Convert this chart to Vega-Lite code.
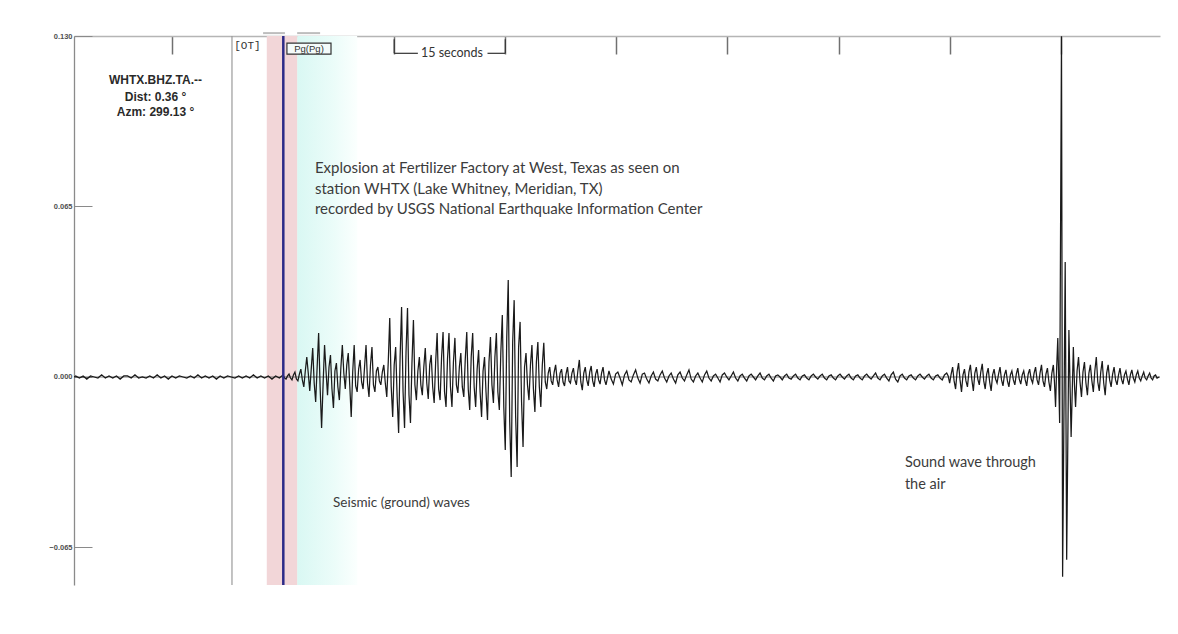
{
  "$schema": "https://vega.github.io/schema/vega-lite/v6.json",
  "width": 1086,
  "height": 549,
  "autosize": {"type": "none"},
  "padding": {"left": 74, "top": 36, "right": 18, "bottom": 49},
  "background": "white",
  "config": {"view": {"stroke": null}, "axis": {"grid": false}},
  "datasets": {
    "wave": [
      {"t":1.8,"a":0},{"t":2.0,"a":0.0004},{"t":2.5,"a":-0.0004},{"t":3.0,"a":0.0004},{"t":3.5,"a":-0.0008},{"t":4.0,"a":0.0004},{"t":4.5,"a":0},{"t":5.0,"a":-0.0004},{"t":5.5,"a":0.0008},{"t":6.0,"a":-0.0004},{"t":6.5,"a":0.0004},{"t":7.0,"a":-0.0004},{"t":7.5,"a":0.0004},{"t":8.0,"a":-0.0008},{"t":8.5,"a":0.0004},{"t":9.0,"a":0.0004},{"t":9.5,"a":-0.0004},{"t":10.0,"a":0.0008},{"t":10.5,"a":-0.0004},{"t":11.0,"a":0},{"t":11.5,"a":-0.0004},{"t":12.0,"a":0.0004},{"t":12.5,"a":-0.0004},{"t":13.0,"a":0.0008},{"t":13.5,"a":-0.0004},{"t":14.0,"a":0.0004},{"t":14.5,"a":-0.0008},{"t":15.0,"a":0.0004},{"t":15.5,"a":-0.0004},{"t":16.0,"a":0.0004},{"t":16.5,"a":0},{"t":17.0,"a":-0.0004},{"t":17.5,"a":0.0004},{"t":18.0,"a":-0.0004},{"t":18.5,"a":0.0008},{"t":19.0,"a":-0.0004},{"t":19.5,"a":0.0004},{"t":20.0,"a":-0.0004},{"t":20.5,"a":0.0004},{"t":21.0,"a":-0.0008},{"t":21.5,"a":0.0004},{"t":22.0,"a":-0.0004},{"t":22.5,"a":0.0004},{"t":23.0,"a":0},{"t":23.5,"a":-0.0004},{"t":24.0,"a":0.0004},{"t":24.5,"a":-0.0004},{"t":25.0,"a":0.0004},{"t":25.5,"a":-0.0004},{"t":26.0,"a":0.0008},{"t":26.5,"a":-0.0004},{"t":27.0,"a":0.0004},{"t":27.5,"a":-0.0004},{"t":28.0,"a":0.0004},{"t":28.5,"a":-0.0008},{"t":29.0,"a":0.0004},{"t":29.5,"a":-0.0004},
      {"t":30.0,"a":0.0008},{"t":30.2,"a":-0.0004},{"t":30.4,"a":-0.0008},{"t":30.6,"a":0.0004},{"t":30.8,"a":0.0011},{"t":31.0,"a":-0.0004},{"t":31.2,"a":-0.0011},{"t":31.4,"a":0.0008},{"t":31.6,"a":0.0019},{"t":31.8,"a":-0.0008},{"t":32.0,"a":-0.0015},{"t":32.2,"a":0.0011},{"t":32.4,"a":0.0030},{"t":32.6,"a":-0.0011},{"t":32.8,"a":-0.0038},{"t":33.0,"a":0.0023},{"t":33.2,"a":0.0076},{"t":33.4,"a":0.0015},{"t":33.6,"a":-0.0053},{"t":33.8,"a":0.0030},{"t":34.0,"a":0.0110},{"t":34.2,"a":-0.0023},{"t":34.4,"a":-0.0095},{"t":34.6,"a":0.0038},{"t":34.8,"a":0.0168},{"t":35.0,"a":-0.0038},{"t":35.2,"a":-0.0194},{"t":35.4,"a":-0.0030},{"t":35.6,"a":0.0122},{"t":35.8,"a":0.0023},{"t":36.0,"a":-0.0069},{"t":36.2,"a":0.0038},{"t":36.4,"a":0.0084},{"t":36.6,"a":-0.0046},{"t":36.8,"a":-0.0118},{"t":37.0,"a":0.0023},{"t":37.2,"a":0.0053},{"t":37.4,"a":-0.0038},{"t":37.6,"a":-0.0088},{"t":37.8,"a":0.0034},{"t":38.0,"a":0.0122},{"t":38.2,"a":0.0015},{"t":38.4,"a":-0.0046},{"t":38.6,"a":0.0046},{"t":38.8,"a":0.0091},{"t":39.0,"a":-0.0030},{"t":39.2,"a":-0.0152},{"t":39.4,"a":0.0019},{"t":39.6,"a":0.0122},{"t":39.8,"a":-0.0034},{"t":40.0,"a":-0.0057},{"t":40.2,"a":0.0030},{"t":40.4,"a":0.0065},{"t":40.6,"a":-0.0019},{"t":40.8,"a":-0.0046},{"t":41.0,"a":0.0038},{"t":41.2,"a":0.0122},{"t":41.4,"a":-0.0023},{"t":41.6,"a":-0.0076},{"t":41.8,"a":0.0046},{"t":42.0,"a":0.0114},{"t":42.2,"a":-0.0030},{"t":42.4,"a":-0.0057},{"t":42.6,"a":0.0023},{"t":42.8,"a":0.0038},{"t":43.0,"a":-0.0015},{"t":43.2,"a":-0.0030},{"t":43.4,"a":0.0019},{"t":43.6,"a":0.0046},{"t":43.8,"a":-0.0023},{"t":44.0,"a":-0.0076},{"t":44.2,"a":0.0057},{"t":44.4,"a":0.0225},{"t":44.6,"a":-0.0038},{"t":44.8,"a":-0.0152},{"t":45.0,"a":0.0046},{"t":45.2,"a":0.0114},{"t":45.4,"a":-0.0076},{"t":45.6,"a":-0.0213},{"t":45.8,"a":0.0076},{"t":46.0,"a":0.0267},{"t":46.2,"a":-0.0057},{"t":46.4,"a":-0.0194},{"t":46.6,"a":0.0095},{"t":46.8,"a":0.0263},{"t":47.0,"a":-0.0069},{"t":47.2,"a":-0.0175},{"t":47.4,"a":0.0053},{"t":47.6,"a":0.0217},{"t":47.8,"a":-0.0030},{"t":48.0,"a":-0.0088},{"t":48.2,"a":0.0023},{"t":48.4,"a":0.0076},{"t":48.6,"a":-0.0030},{"t":48.8,"a":-0.0069},{"t":49.0,"a":0.0038},{"t":49.2,"a":0.0110},{"t":49.4,"a":-0.0023},{"t":49.6,"a":-0.0084},{"t":49.8,"a":0.0046},{"t":50.0,"a":0.0084},{"t":50.2,"a":-0.0038},{"t":50.4,"a":-0.0099},{"t":50.6,"a":0.0057},{"t":50.8,"a":0.0168},{"t":51.0,"a":-0.0046},{"t":51.2,"a":-0.0088},{"t":51.4,"a":0.0076},{"t":51.6,"a":0.0171},{"t":51.8,"a":-0.0057},{"t":52.0,"a":-0.0114},{"t":52.2,"a":0.0069},{"t":52.4,"a":0.0168},{"t":52.6,"a":-0.0038},{"t":52.8,"a":-0.0114},{"t":53.0,"a":0.0057},{"t":53.2,"a":0.0149},{"t":53.4,"a":-0.0030},{"t":53.6,"a":-0.0061},{"t":53.8,"a":0.0038},{"t":54.0,"a":0.0091},{"t":54.2,"a":-0.0038},{"t":54.4,"a":-0.0076},{"t":54.6,"a":0.0069},{"t":54.8,"a":0.0171},{"t":55.0,"a":-0.0046},{"t":55.2,"a":-0.0126},{"t":55.4,"a":0.0076},{"t":55.6,"a":0.0168},{"t":55.8,"a":-0.0038},{"t":56.0,"a":-0.0114},{"t":56.2,"a":0.0030},{"t":56.4,"a":0.0103},{"t":56.6,"a":-0.0057},{"t":56.8,"a":-0.0152},{"t":57.0,"a":0.0023},{"t":57.2,"a":0.0076},{"t":57.4,"a":-0.0057},{"t":57.6,"a":-0.0164},{"t":57.8,"a":0.0057},{"t":58.0,"a":0.0152},{"t":58.2,"a":-0.0030},{"t":58.4,"a":-0.0099},{"t":58.6,"a":0.0076},{"t":58.8,"a":0.0168},{"t":59.0,"a":-0.0057},{"t":59.2,"a":-0.0126},{"t":59.4,"a":0.0095},{"t":59.6,"a":0.0236},{"t":59.8,"a":-0.0114},{"t":60.0,"a":-0.0278},{"t":60.2,"a":0.0152},{"t":60.4,"a":0.0370},{"t":60.6,"a":-0.0171},{"t":60.8,"a":-0.0381},{"t":61.0,"a":0.0133},{"t":61.2,"a":0.0293},{"t":61.4,"a":-0.0152},{"t":61.6,"a":-0.0343},{"t":61.8,"a":0.0114},{"t":62.0,"a":0.0210},{"t":62.2,"a":-0.0095},{"t":62.4,"a":-0.0267},{"t":62.6,"a":0.0038},{"t":62.8,"a":0.0091},{"t":63.0,"a":-0.0030},{"t":63.2,"a":-0.0088},{"t":63.4,"a":0.0046},{"t":63.6,"a":0.0122},{"t":63.8,"a":-0.0046},{"t":64.0,"a":-0.0133},{"t":64.2,"a":0.0057},{"t":64.4,"a":0.0133},{"t":64.6,"a":-0.0038},{"t":64.8,"a":-0.0114},{"t":65.0,"a":0.0046},{"t":65.2,"a":0.0130},{"t":65.4,"a":-0.0019},{"t":65.6,"a":-0.0046},{"t":65.8,"a":0.0015},{"t":66.0,"a":0.0038},{"t":66.2,"a":-0.0015},{"t":66.4,"a":-0.0030},{"t":66.6,"a":0.0019},{"t":66.8,"a":0.0046},{"t":67.0,"a":-0.0011},{"t":67.2,"a":-0.0038},{"t":67.4,"a":0.0015},{"t":67.6,"a":0.0030},{"t":67.8,"a":-0.0019},{"t":68.0,"a":-0.0034},{"t":68.2,"a":0.0011},{"t":68.4,"a":0.0038},{"t":68.6,"a":-0.0015},{"t":68.8,"a":-0.0023},{"t":69.0,"a":0.0015},{"t":69.2,"a":0.0034},{"t":69.4,"a":-0.0011},{"t":69.6,"a":-0.0030},{"t":69.8,"a":0.0023},{"t":70.0,"a":0.0065},{"t":70.2,"a":-0.0019},{"t":70.4,"a":-0.0050},{"t":70.6,"a":0.0015},{"t":70.8,"a":0.0038},{"t":71.0,"a":-0.0011},{"t":71.2,"a":-0.0034},{"t":71.4,"a":0.0019},{"t":71.6,"a":0.0042},{"t":71.8,"a":-0.0015},{"t":72.0,"a":-0.0038},{"t":72.2,"a":0.0011},{"t":72.4,"a":0.0030},{"t":72.6,"a":-0.0011},{"t":72.8,"a":-0.0027},{"t":73.0,"a":0.0015},{"t":73.2,"a":0.0038},{"t":73.4,"a":-0.0011},{"t":73.6,"a":-0.0030},
      {"t":74.0,"a":0.0023},{"t":74.3,"a":-0.0008},{"t":74.6,"a":-0.0027},{"t":74.9,"a":0.0011},{"t":75.2,"a":0.0019},{"t":75.5,"a":-0.0004},{"t":75.8,"a":-0.0030},{"t":76.1,"a":0.0008},{"t":76.4,"a":0.0023},{"t":76.7,"a":-0.0011},{"t":77.0,"a":-0.0019},{"t":77.3,"a":0.0008},{"t":77.6,"a":0.0027},{"t":77.9,"a":-0.0004},{"t":78.2,"a":-0.0023},{"t":78.5,"a":0.0011},{"t":78.8,"a":0.0015},{"t":79.1,"a":-0.0008},{"t":79.4,"a":-0.0023},{"t":79.7,"a":0.0004},{"t":80.0,"a":0.0019},{"t":80.3,"a":-0.0008},{"t":80.6,"a":-0.0015},{"t":80.9,"a":0.0008},{"t":81.2,"a":0.0023},{"t":81.5,"a":-0.0004},{"t":81.8,"a":-0.0019},{"t":82.1,"a":0.0004},{"t":82.4,"a":0.0015},{"t":82.7,"a":-0.0008},{"t":83.0,"a":-0.0023},{"t":83.3,"a":0.0008},{"t":83.6,"a":0.0019},{"t":83.9,"a":-0.0004},{"t":84.2,"a":-0.0015},{"t":84.5,"a":0.0008},{"t":84.8,"a":0.0027},{"t":85.1,"a":-0.0008},{"t":85.4,"a":-0.0019},{"t":85.7,"a":0.0004},{"t":86.0,"a":0.0015},{"t":86.3,"a":-0.0004},{"t":86.6,"a":-0.0019},{"t":86.9,"a":0.0008},{"t":87.2,"a":0.0023},{"t":87.5,"a":-0.0004},{"t":87.8,"a":-0.0015},{"t":88.1,"a":0.0004},{"t":88.4,"a":0.0011},{"t":88.7,"a":-0.0004},{"t":89.0,"a":-0.0019},{"t":89.3,"a":0.0008},{"t":89.6,"a":0.0015},{"t":89.9,"a":0},{"t":90.2,"a":-0.0011},{"t":90.5,"a":0.0004},{"t":90.8,"a":0.0019},{"t":91.1,"a":-0.0004},{"t":91.4,"a":-0.0015},{"t":91.7,"a":0.0004},{"t":92.0,"a":0.0011},{"t":92.3,"a":-0.0004},{"t":92.6,"a":-0.0015},{"t":92.9,"a":0.0004},{"t":93.2,"a":0.0011},{"t":93.5,"a":0},{"t":93.8,"a":-0.0011},{"t":94.1,"a":0.0004},{"t":94.4,"a":0.0015},{"t":94.7,"a":-0.0004},{"t":95.0,"a":-0.0011},{"t":95.3,"a":0.0004},{"t":95.6,"a":0.0011},{"t":95.9,"a":-0.0004},{"t":96.2,"a":-0.0015},{"t":96.5,"a":0.0004},{"t":96.8,"a":0.0008},{"t":97.1,"a":0},{"t":97.4,"a":-0.0011},{"t":97.7,"a":0.0004},{"t":98.0,"a":0.0011},{"t":98.3,"a":-0.0004},{"t":98.6,"a":-0.0008},{"t":98.9,"a":0.0004},{"t":99.2,"a":0.0011},{"t":99.5,"a":-0.0004},{"t":99.8,"a":-0.0011},{"t":100.1,"a":0.0004},{"t":100.4,"a":0.0008},{"t":100.7,"a":-0.0004},{"t":101.0,"a":-0.0011},{"t":101.3,"a":0.0004},{"t":101.6,"a":0.0011},{"t":101.9,"a":0},{"t":102.2,"a":-0.0008},{"t":102.5,"a":0.0004},{"t":102.8,"a":0.0011},{"t":103.1,"a":-0.0004},{"t":103.4,"a":-0.0011},{"t":103.7,"a":0.0004},{"t":104.0,"a":0.0008},{"t":104.3,"a":-0.0004},{"t":104.6,"a":-0.0011},{"t":104.9,"a":0.0004},{"t":105.2,"a":0.0011},{"t":105.5,"a":0},{"t":105.8,"a":-0.0008},{"t":106.1,"a":0.0004},{"t":106.4,"a":0.0011},{"t":106.7,"a":-0.0004},{"t":107.0,"a":-0.0011},{"t":107.3,"a":0.0004},{"t":107.6,"a":0.0008},{"t":107.9,"a":-0.0004},{"t":108.2,"a":-0.0011},{"t":108.5,"a":0.0004},{"t":108.8,"a":0.0011},{"t":109.1,"a":0},{"t":109.4,"a":-0.0008},{"t":109.7,"a":0.0004},{"t":110.0,"a":0.0015},{"t":110.3,"a":-0.0004},{"t":110.6,"a":-0.0011},{"t":110.9,"a":0.0004},{"t":111.2,"a":0.0011},{"t":111.5,"a":-0.0004},{"t":111.8,"a":-0.0015},{"t":112.1,"a":0.0008},{"t":112.4,"a":0.0019},{"t":112.7,"a":-0.0008},{"t":113.0,"a":-0.0019},{"t":113.3,"a":0.0004},{"t":113.6,"a":0.0011},{"t":113.9,"a":-0.0004},{"t":114.2,"a":-0.0011},{"t":114.5,"a":0.0004},{"t":114.8,"a":0.0008},{"t":115.1,"a":-0.0004},{"t":115.4,"a":-0.0011},{"t":115.7,"a":0.0004},{"t":116.0,"a":0.0011},{"t":116.3,"a":0},{"t":116.6,"a":-0.0008},{"t":116.9,"a":0.0004},{"t":117.2,"a":0.0011},{"t":117.5,"a":-0.0004},{"t":117.8,"a":-0.0011},{"t":118.1,"a":0.0004},{"t":118.4,"a":0.0008},{"t":118.7,"a":-0.0004},{"t":119.0,"a":-0.0011},{"t":119.3,"a":0.0008},{"t":119.6,"a":0.0015},{"t":119.8,"a":0.0004},
      {"t":120.0,"a":-0.0023},{"t":120.2,"a":0.0011},{"t":120.4,"a":0.0038},{"t":120.6,"a":-0.0015},{"t":120.8,"a":-0.0046},{"t":121.0,"a":0.0019},{"t":121.2,"a":0.0053},{"t":121.4,"a":-0.0011},{"t":121.6,"a":-0.0057},{"t":121.8,"a":0.0008},{"t":122.0,"a":0.0030},{"t":122.2,"a":-0.0015},{"t":122.4,"a":-0.0038},{"t":122.6,"a":0.0019},{"t":122.8,"a":0.0046},{"t":123.0,"a":-0.0011},{"t":123.2,"a":-0.0053},{"t":123.4,"a":0.0015},{"t":123.6,"a":0.0038},{"t":123.8,"a":-0.0008},{"t":124.0,"a":-0.0030},{"t":124.2,"a":0.0019},{"t":124.4,"a":0.0050},{"t":124.6,"a":-0.0015},{"t":124.8,"a":-0.0046},{"t":125.0,"a":0.0011},{"t":125.2,"a":0.0034},{"t":125.4,"a":-0.0019},{"t":125.6,"a":-0.0053},{"t":125.8,"a":0.0008},{"t":126.0,"a":0.0030},{"t":126.2,"a":-0.0008},{"t":126.4,"a":-0.0023},{"t":126.6,"a":0.0011},{"t":126.8,"a":0.0038},{"t":127.0,"a":-0.0011},{"t":127.2,"a":-0.0034},{"t":127.4,"a":0.0008},{"t":127.6,"a":0.0027},{"t":127.8,"a":-0.0015},{"t":128.0,"a":-0.0038},{"t":128.2,"a":0.0008},{"t":128.4,"a":0.0023},{"t":128.6,"a":-0.0011},{"t":128.8,"a":-0.0030},{"t":129.0,"a":0.0011},{"t":129.2,"a":0.0034},{"t":129.4,"a":-0.0008},{"t":129.6,"a":-0.0027},{"t":129.8,"a":0.0008},{"t":130.0,"a":0.0023},{"t":130.2,"a":-0.0011},{"t":130.4,"a":-0.0034},{"t":130.6,"a":0.0011},{"t":130.8,"a":0.0030},{"t":131.0,"a":-0.0008},{"t":131.2,"a":-0.0023},{"t":131.4,"a":0.0015},{"t":131.6,"a":0.0038},{"t":131.8,"a":-0.0011},{"t":132.0,"a":-0.0030},{"t":132.2,"a":0.0015},{"t":132.4,"a":0.0046},{"t":132.6,"a":-0.0015},{"t":132.8,"a":-0.0038},{"t":133.0,"a":0.0011},{"t":133.2,"a":0.0034},{"t":133.4,"a":-0.0019},{"t":133.6,"a":-0.0053},{"t":133.8,"a":0.0015},{"t":134.0,"a":0.0046},{"t":134.15,"a":-0.0019},{"t":134.3,"a":-0.0114},{"t":134.45,"a":0.0038},{"t":134.6,"a":0.0149},{"t":134.85,"a":-0.0175},{"t":135.1,"a":0.1299},{"t":135.25,"a":-0.0762},{"t":135.6,"a":0.0438},{"t":135.8,"a":-0.0697},{"t":136.1,"a":0.0179},{"t":136.4,"a":-0.0229},{"t":136.7,"a":0.0114},{"t":136.85,"a":-0.0030},{"t":137.0,"a":-0.0114},{"t":137.2,"a":0.0023},{"t":137.4,"a":0.0076},{"t":137.6,"a":-0.0019},{"t":137.8,"a":-0.0076},{"t":138.0,"a":0.0019},{"t":138.2,"a":0.0057},{"t":138.4,"a":-0.0023},{"t":138.6,"a":-0.0069},{"t":138.8,"a":0.0015},{"t":139.0,"a":0.0046},{"t":139.2,"a":-0.0015},{"t":139.4,"a":-0.0057},{"t":139.6,"a":0.0023},{"t":139.8,"a":0.0076},{"t":140.0,"a":-0.0019},{"t":140.2,"a":-0.0053},{"t":140.4,"a":0.0019},{"t":140.6,"a":0.0061},{"t":140.8,"a":-0.0023},{"t":141.0,"a":-0.0069},{"t":141.2,"a":0.0015},{"t":141.4,"a":0.0046},{"t":141.6,"a":-0.0011},{"t":141.8,"a":-0.0038},{"t":142.0,"a":0.0011},{"t":142.2,"a":0.0038},{"t":142.4,"a":-0.0011},{"t":142.6,"a":-0.0030},{"t":142.8,"a":0.0008},{"t":143.0,"a":0.0034},{"t":143.2,"a":-0.0008},{"t":143.4,"a":-0.0027},{"t":143.6,"a":0.0008},{"t":143.8,"a":0.0023},{"t":144.0,"a":-0.0008},{"t":144.2,"a":-0.0030},{"t":144.4,"a":0.0008},{"t":144.6,"a":0.0027},{"t":144.8,"a":-0.0004},{"t":145.0,"a":-0.0019},{"t":145.2,"a":0.0008},{"t":145.4,"a":0.0023},{"t":145.6,"a":-0.0004},{"t":145.8,"a":-0.0015},{"t":146.0,"a":0.0004},{"t":146.2,"a":0.0019},{"t":146.4,"a":-0.0004},{"t":146.6,"a":-0.0011},{"t":146.8,"a":0.0004},{"t":147.0,"a":0.0015},{"t":147.2,"a":-0.0004},{"t":147.4,"a":-0.0011},{"t":147.6,"a":0.0004},{"t":147.8,"a":0.0008},{"t":148.0,"a":-0.0004},{"t":148.3,"a":0}
    ],
    "cyanBand": [{"t": 31.9, "t2": 40.0}],
    "pinkBand": [{"t": 27.8, "t2": 31.9}],
    "otLine": [{"t": 23.1}],
    "pickLine": [{"t": 30.03}],
    "zero": [{"a": 0}],
    "topBars": [{"t": 27.3, "t2": 30.25, "a": 0.1311}, {"t": 31.9, "t2": 35.0, "a": 0.1311}],
    "bracket": [
      {"t": 45, "t2": 45, "a": 0.1288, "a2": 0.1234},
      {"t": 60, "t2": 60, "a": 0.1288, "a2": 0.1234},
      {"t": 45, "t2": 48.2, "a": 0.1234, "a2": 0.1234},
      {"t": 57.6, "t2": 60, "a": 0.1234, "a2": 0.1234}
    ],
    "pgBox": [{"t": 30.52, "t2": 36.47, "a": 0.1273, "a2": 0.1231}],
    "otTag": [{"t": 25.19, "a": 0.1261, "label": "[OT]"}],
    "pgTag": [{"t": 33.5, "a": 0.1252, "label": "Pg(Pg)"}],
    "scaleLabel": [{"t": 52.8, "a": 0.1236, "label": "15 seconds"}],
    "station": [
      {"t": 12.77, "a": 0.1132, "label": "WHTX.BHZ.TA.--"},
      {"t": 12.77, "a": 0.1067, "label": "Dist: 0.36 °"},
      {"t": 12.77, "a": 0.1010, "label": "Azm: 299.13 °"}
    ],
    "headline": [
      {"t": 34.3, "a": 0.0796, "label": "Explosion at Fertilizer Factory at West, Texas as seen on"},
      {"t": 34.3, "a": 0.0716, "label": "station WHTX (Lake Whitney, Meridian, TX)"},
      {"t": 34.3, "a": 0.0640, "label": "recorded by USGS National Earthquake Information Center"}
    ],
    "seismicNote": [{"t": 36.74, "a": -0.0480, "label": "Seismic (ground) waves"}],
    "soundNote": [
      {"t": 113.96, "a": -0.0328, "label": "Sound wave through"},
      {"t": 113.96, "a": -0.0411, "label": "the air"}
    ]
  },
  "layer": [
    {
      "data": {"name": "cyanBand"},
      "mark": {"type": "rect", "color": {"gradient": "linear", "x1": 0, "x2": 1, "y1": 0, "y2": 0, "stops": [{"offset": 0, "color": "#d9f8f3"}, {"offset": 0.6, "color": "#ebfcf9"}, {"offset": 1, "color": "#fbfffe"}]}},
      "encoding": {
        "x": {"field": "t", "type": "quantitative", "title": null, "scale": {"domain": [1.77, 148.4], "nice": false, "zero": false}},
        "x2": {"field": "t2"}
      }
    },
    {
      "data": {"name": "pinkBand"},
      "mark": {"type": "rect", "color": "#f2d6d8"},
      "encoding": {
        "x": {"field": "t", "type": "quantitative", "title": null},
        "x2": {"field": "t2"}
      }
    },
    {
      "data": {"name": "otLine"},
      "mark": {"type": "rule", "color": "#9a9a9a", "strokeWidth": 1.2},
      "encoding": {"x": {"field": "t", "type": "quantitative", "title": null}}
    },
    {
      "data": {"name": "zero"},
      "mark": {"type": "rule", "color": "#555555", "strokeWidth": 0.8},
      "encoding": {"y": {"field": "a", "type": "quantitative", "title": null}}
    },
    {
      "data": {"name": "wave"},
      "mark": {"type": "line", "color": "#1a1a1a", "strokeWidth": 1.25},
      "encoding": {
        "x": {"field": "t", "type": "quantitative", "title": null,
          "axis": {"orient": "top", "values": [15, 30, 45, 60, 75, 90, 105, 120, 135], "labels": false, "title": null, "grid": false,
            "domainColor": "#b5b5b5", "domainWidth": 1.5, "tickColor": "#707070", "tickWidth": 1.5, "tickSize": -18}},
        "y": {"field": "a", "type": "quantitative", "title": null, "scale": {"domain": [-0.0793, 0.13], "nice": false, "zero": false},
          "axis": {"orient": "left", "values": [-0.065, 0, 0.065, 0.13], "format": ".3f", "title": null, "grid": false,
            "domainColor": "#8a8a8a", "domainWidth": 1.3, "tickColor": "#8a8a8a", "tickWidth": 1, "tickSize": -18,
            "labelPadding": 20, "labelFont": "Liberation Sans", "labelFontSize": 7.5, "labelFontWeight": "bold", "labelColor": "#505050"}}
      }
    },
    {
      "data": {"name": "pickLine"},
      "mark": {"type": "rule", "color": "#2d2b88", "strokeWidth": 2.5},
      "encoding": {"x": {"field": "t", "type": "quantitative", "title": null}}
    },
    {
      "data": {"name": "topBars"},
      "mark": {"type": "rule", "color": "#bdbdbd", "strokeWidth": 2},
      "encoding": {
        "x": {"field": "t", "type": "quantitative", "title": null},
        "x2": {"field": "t2"},
        "y": {"field": "a", "type": "quantitative", "title": null}
      }
    },
    {
      "data": {"name": "bracket"},
      "mark": {"type": "rule", "color": "#333333", "strokeWidth": 1.2},
      "encoding": {
        "x": {"field": "t", "type": "quantitative", "title": null},
        "x2": {"field": "t2"},
        "y": {"field": "a", "type": "quantitative", "title": null},
        "y2": {"field": "a2"}
      }
    },
    {
      "data": {"name": "pgBox"},
      "mark": {"type": "rect", "fill": "#f4fbfa", "stroke": "#333333", "strokeWidth": 1.2},
      "encoding": {
        "x": {"field": "t", "type": "quantitative", "title": null},
        "x2": {"field": "t2"},
        "y": {"field": "a", "type": "quantitative", "title": null},
        "y2": {"field": "a2"}
      }
    },
    {
      "data": {"name": "otTag"},
      "mark": {"type": "text", "font": "Liberation Mono", "fontSize": 11, "color": "#333333", "align": "center", "baseline": "middle"},
      "encoding": {
        "x": {"field": "t", "type": "quantitative", "title": null},
        "y": {"field": "a", "type": "quantitative", "title": null},
        "text": {"field": "label"}
      }
    },
    {
      "data": {"name": "pgTag"},
      "mark": {"type": "text", "font": "Liberation Sans", "fontSize": 9.5, "color": "#333333", "align": "center", "baseline": "middle"},
      "encoding": {
        "x": {"field": "t", "type": "quantitative", "title": null},
        "y": {"field": "a", "type": "quantitative", "title": null},
        "text": {"field": "label"}
      }
    },
    {
      "data": {"name": "scaleLabel"},
      "mark": {"type": "text", "font": "Lato", "fontSize": 12.5, "color": "#333333", "align": "center", "baseline": "middle"},
      "encoding": {
        "x": {"field": "t", "type": "quantitative", "title": null},
        "y": {"field": "a", "type": "quantitative", "title": null},
        "text": {"field": "label"}
      }
    },
    {
      "data": {"name": "station"},
      "mark": {"type": "text", "font": "Liberation Sans", "fontSize": 12, "fontWeight": "bold", "color": "#2a2a2a", "align": "center", "baseline": "middle"},
      "encoding": {
        "x": {"field": "t", "type": "quantitative", "title": null},
        "y": {"field": "a", "type": "quantitative", "title": null},
        "text": {"field": "label"}
      }
    },
    {
      "data": {"name": "headline"},
      "mark": {"type": "text", "font": "Lato", "fontSize": 15, "color": "#3c3c3c", "align": "left", "baseline": "middle"},
      "encoding": {
        "x": {"field": "t", "type": "quantitative", "title": null},
        "y": {"field": "a", "type": "quantitative", "title": null},
        "text": {"field": "label"}
      }
    },
    {
      "data": {"name": "seismicNote"},
      "mark": {"type": "text", "font": "Lato", "fontSize": 13.5, "color": "#3c3c3c", "align": "left", "baseline": "middle"},
      "encoding": {
        "x": {"field": "t", "type": "quantitative", "title": null},
        "y": {"field": "a", "type": "quantitative", "title": null},
        "text": {"field": "label"}
      }
    },
    {
      "data": {"name": "soundNote"},
      "mark": {"type": "text", "font": "Lato", "fontSize": 14.5, "color": "#3c3c3c", "align": "left", "baseline": "middle"},
      "encoding": {
        "x": {"field": "t", "type": "quantitative", "title": null},
        "y": {"field": "a", "type": "quantitative", "title": null},
        "text": {"field": "label"}
      }
    }
  ]
}
